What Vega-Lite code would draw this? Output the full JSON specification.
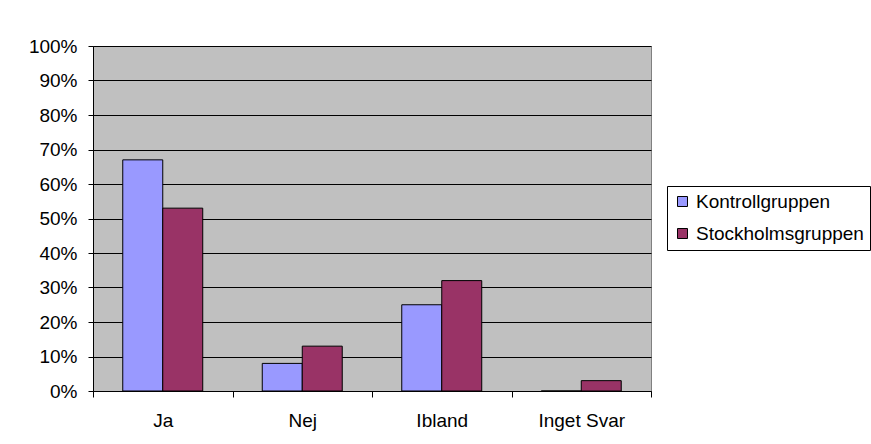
{
  "$schema": "https://vega.github.io/schema/vega-lite/v6.json",
  "width": 558,
  "height": 345,
  "autosize": {"type": "none"},
  "padding": {"left": 93, "top": 46, "right": 220, "bottom": 53},
  "background": "white",
  "data": {
    "values": [
      {"svar": "Ja", "grupp": "Kontrollgruppen", "andel": 0.67},
      {"svar": "Ja", "grupp": "Stockholmsgruppen", "andel": 0.53},
      {"svar": "Nej", "grupp": "Kontrollgruppen", "andel": 0.08},
      {"svar": "Nej", "grupp": "Stockholmsgruppen", "andel": 0.13},
      {"svar": "Ibland", "grupp": "Kontrollgruppen", "andel": 0.25},
      {"svar": "Ibland", "grupp": "Stockholmsgruppen", "andel": 0.32},
      {"svar": "Inget Svar", "grupp": "Kontrollgruppen", "andel": 0.0},
      {"svar": "Inget Svar", "grupp": "Stockholmsgruppen", "andel": 0.03}
    ]
  },
  "mark": {"type": "bar", "stroke": "black", "strokeWidth": 1},
  "encoding": {
    "x": {
      "field": "svar",
      "type": "nominal",
      "sort": ["Ja", "Nej", "Ibland", "Inget Svar"],
      "scale": {"paddingInner": 0, "paddingOuter": 0},
      "axis": {
        "title": null,
        "labelAngle": 0,
        "tickBand": "extent",
        "tickSize": 6,
        "tickColor": "black",
        "domainColor": "black",
        "labelFont": "Liberation Sans",
        "labelFontSize": 19,
        "labelColor": "black",
        "labelPadding": 14,
        "grid": false
      }
    },
    "xOffset": {"field": "grupp", "type": "nominal", "scale": {"paddingInner": 0, "paddingOuter": 0.744}},
    "y": {
      "field": "andel",
      "type": "quantitative",
      "scale": {"domain": [0, 1], "nice": false},
      "axis": {
        "title": null,
        "format": ".0%",
        "values": [0, 0.1, 0.2, 0.3, 0.4, 0.5, 0.6, 0.7, 0.8, 0.9, 1],
        "tickSize": 5,
        "tickColor": "black",
        "domainColor": "black",
        "gridColor": "black",
        "gridOpacity": 1,
        "labelFont": "Liberation Sans",
        "labelFontSize": 19,
        "labelColor": "black",
        "labelPadding": 11
      }
    },
    "color": {
      "field": "grupp",
      "type": "nominal",
      "scale": {"domain": ["Kontrollgruppen", "Stockholmsgruppen"], "range": ["#9999FF", "#993366"]},
      "legend": {
        "title": null,
        "orient": "none",
        "legendX": 574,
        "legendY": 140,
        "symbolType": "square",
        "symbolSize": 100,
        "symbolStrokeColor": "black",
        "symbolStrokeWidth": 1,
        "labelFont": "Liberation Sans",
        "labelFontSize": 19,
        "labelColor": "black",
        "labelLimit": 300,
        "strokeColor": "black",
        "padding": 6,
        "rowPadding": 12,
        "labelOffset": 4
      }
    }
  },
  "config": {
    "view": {"fill": "#C0C0C0", "stroke": "#808080"}
  }
}
